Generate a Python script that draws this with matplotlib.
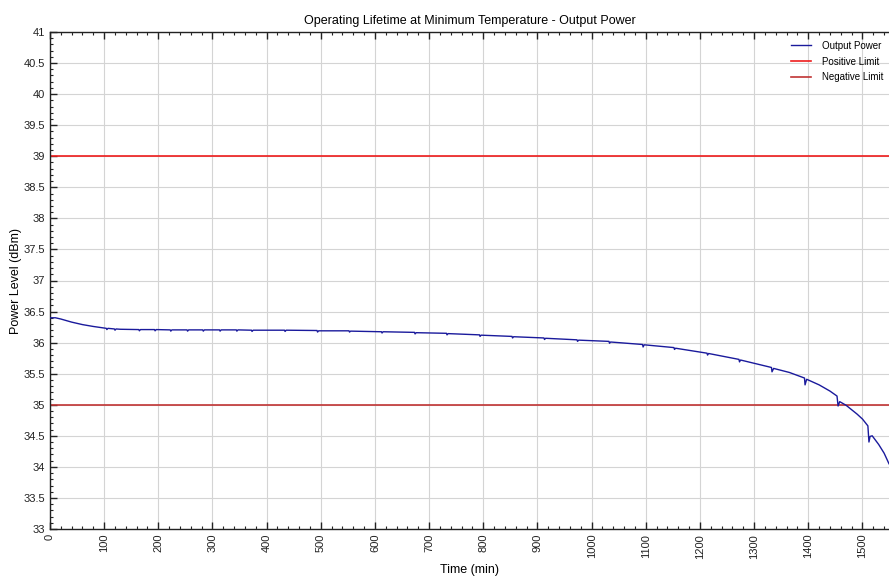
import matplotlib
matplotlib.use("Agg")
import matplotlib.pyplot as plt
from matplotlib.ticker import MultipleLocator

plt.rcParams['font.family'] = ['Liberation Sans', 'DejaVu Sans']

time_min = [0, 10, 20, 40, 60, 80, 100, 104, 105, 107, 119, 120, 122, 130,
            164, 165, 167, 193, 194, 196, 222, 223, 225, 253, 254, 256,
            282, 283, 285, 313, 314, 316, 344, 345, 347, 372, 373, 375,
            433, 434, 436, 493, 494, 496, 552, 553, 555, 612, 613, 615,
            673, 674, 676, 732, 733, 735, 793, 794, 796, 853, 854, 856,
            912, 913, 915, 973, 974, 976, 1032, 1033, 1035, 1094, 1095, 1097,
            1152, 1153, 1155, 1213, 1214, 1216, 1272, 1273, 1275, 1332, 1333, 1336,
            1365, 1393, 1394, 1397, 1420, 1440, 1453, 1455, 1458, 1470, 1480, 1490,
            1500, 1510, 1512, 1514, 1518, 1530, 1540, 1549]
power_dbm = [36.40, 36.40, 36.38, 36.33, 36.29, 36.26, 36.235, 36.23, 36.21, 36.23, 36.22, 36.20, 36.22, 36.215,
             36.21, 36.19, 36.21, 36.21, 36.19, 36.21, 36.205, 36.185, 36.205, 36.205, 36.185, 36.205,
             36.205, 36.185, 36.205, 36.205, 36.185, 36.205, 36.205, 36.185, 36.205, 36.20, 36.18, 36.20,
             36.20, 36.18, 36.20, 36.195, 36.17, 36.19, 36.19, 36.17, 36.185, 36.175, 36.155, 36.175,
             36.165, 36.14, 36.16, 36.15, 36.125, 36.145, 36.125, 36.10, 36.12, 36.10, 36.075, 36.095,
             36.075, 36.05, 36.07, 36.045, 36.02, 36.04, 36.02, 35.99, 36.01, 35.97, 35.93, 35.965,
             35.92, 35.89, 35.91, 35.83, 35.80, 35.825, 35.73, 35.69, 35.72, 35.60, 35.53, 35.585,
             35.52, 35.43, 35.32, 35.41, 35.32, 35.22, 35.14, 34.98, 35.05, 34.99, 34.92, 34.85,
             34.77, 34.66, 34.40, 34.49, 34.50, 34.36, 34.22, 34.05]

positive_limit = 39.0
negative_limit = 35.0

fig = plt.figure(figsize=(8.89, 5.77), dpi=100)
ax = fig.add_axes([50/889, 48/577, 1 - 50/889, (529-32)/577])

ax.plot(time_min, power_dbm, color='#1a1a9c', lw=1.0, label='Output Power', zorder=3)
ax.axhline(positive_limit, color='#ee1c1c', lw=1.2, label='Positive Limit', zorder=2)
ax.axhline(negative_limit, color='#c03434', lw=1.2, label='Negative Limit', zorder=2)

ax.set_xlim(0, 1549)
ax.set_ylim(33, 41)
ax.xaxis.set_major_locator(MultipleLocator(100))
ax.xaxis.set_minor_locator(MultipleLocator(20))
ax.yaxis.set_major_locator(MultipleLocator(0.5))
ax.yaxis.set_minor_locator(MultipleLocator(0.1))
ax.yaxis.set_major_formatter(matplotlib.ticker.FuncFormatter(lambda v, p: f"{v:g}"))

ax.tick_params(which='both', direction='in', top=True, right=False, labelsize=8, colors='#222222')
ax.tick_params(which='major', length=5, width=1)
ax.tick_params(which='minor', length=2.5, width=0.8)
for lbl in ax.get_xticklabels():
    lbl.set_rotation(90)

ax.grid(True, which='major', color='#d4d4d4', lw=0.8)
ax.set_axisbelow(True)
for s in ax.spines.values():
    s.set_color('#222222')
    s.set_linewidth(1.0)
ax.spines['right'].set_visible(False)

ax.set_title('Operating Lifetime at Minimum Temperature - Output Power', fontsize=9, pad=6)
ax.set_xlabel('Time (min)', fontsize=9, labelpad=4)
ax.set_ylabel('Power Level (dBm)', fontsize=9)
ax.yaxis.set_label_coords(-0.033, 0.5)

leg = ax.legend(loc='upper right', frameon=False, fontsize=7, handlelength=2.0,
                bbox_to_anchor=(1.004, 1.0), labelspacing=0.6, handletextpad=1.2)

fig.savefig('out.png', dpi=100)
